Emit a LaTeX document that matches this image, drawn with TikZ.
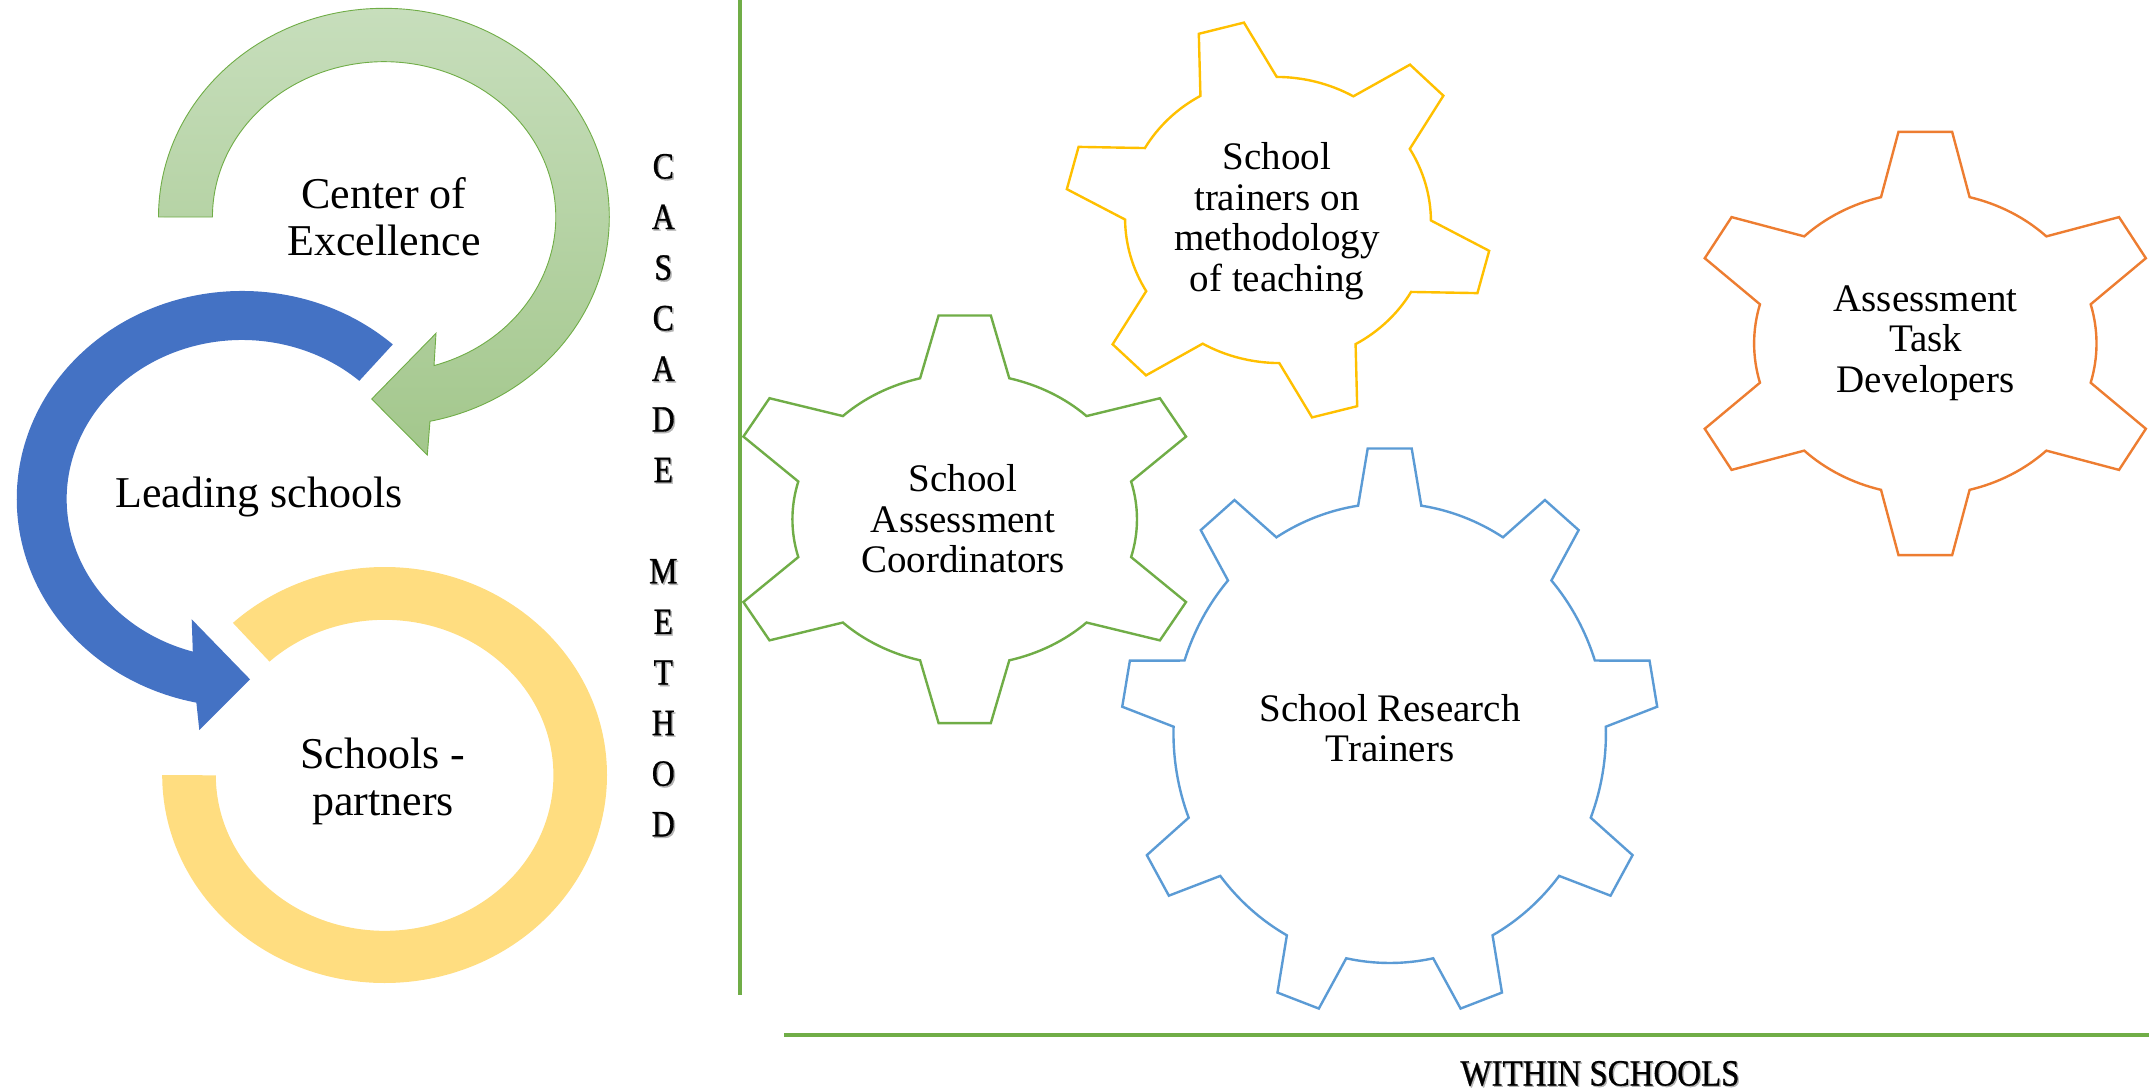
\documentclass[tikz,border=0pt]{standalone}
\usepackage{fontspec}
\setmainfont{Liberation Serif}
\newfontfamily\capfont[FakeBold=0.8]{Liberation Serif}
\usepackage{graphicx}

\definecolor{accgreen}{RGB}{112,173,71}
\definecolor{accblue}{RGB}{68,114,196}
\definecolor{accgold}{RGB}{255,192,0}
\definecolor{accorange}{RGB}{237,125,49}
\definecolor{accsky}{RGB}{91,155,213}
\definecolor{ringyellow}{RGB}{255,221,128}
\definecolor{greentop}{RGB}{199,222,188}
\definecolor{greenbottom}{RGB}{163,199,140}

% gear outline: [style]{teeth}{first tooth angle}{tip radius}{root radius}{tip half-angle}{base half-angle}
\newcommand{\cogwheel}[7][]{%
  \pgfmathsetmacro{\cogstep}{360/#2}%
  \draw[#1] ({#3-#7}:#5)
    \foreach \k in {1,...,#2}{%
      -- ({#3+(\k-1)*\cogstep-#6}:#4)
      -- ({#3+(\k-1)*\cogstep+#6}:#4)
      -- ({#3+(\k-1)*\cogstep+#7}:#5)
      arc[start angle={#3+(\k-1)*\cogstep+#7}, end angle={#3+\k*\cogstep-#7}, radius=#5]
    } -- cycle;}

% narrowed capitals for the captions
\newcommand{\capword}[1]{\scalebox{0.86}[1]{#1}}

\begin{document}
\begin{tikzpicture}[x=1pt,y=1pt,
  bigtext/.style={font=\fontsize{44}{47}\selectfont, align=center, inner sep=0pt},
  geartext/.style={font=\fontsize{39}{40.5}\selectfont, align=center, inner sep=0pt},
  letter/.style={font=\capfont\fontsize{37}{38}\selectfont, anchor=base, inner sep=0pt},
  lettershadow/.style={letter, text=black!30},
  gearline/.style={line width=2.4pt, line join=miter, fill=white},
  divider/.style={draw=accgreen, line width=3.6pt}]
\useasboundingbox (0,0) rectangle (2149,-1091);

% ---- cascade of curved arrows ----
\shade[top color=greentop, bottom color=greenbottom, draw=accgreen, line width=0.9pt]
  (158.5,-217) arc[start angle=180, end angle=-78.2, x radius=225.4, y radius=208.7]
  -- (427.3,-455) -- (371.7,-399) -- (436,-333.3) -- (434,-365.6)
  arc[start angle=-73.1, end angle=180, x radius=171.65, y radius=155.3] -- cycle;

\fill[accblue]
  (392.8,-344.4) arc[start angle=48, end angle=258.3, x radius=225.3, y radius=208]
  -- (199.3,-730) -- (250,-679.3) -- (191.7,-619.3) -- (192.8,-651.6)
  arc[start angle=253.7, end angle=48, x radius=175.3, y radius=159] -- cycle;

\fill[ringyellow]
  (162.2,-775) arc[start angle=180, end angle=493, x radius=222.4, y radius=208]
  -- (269.5,-661.6)
  arc[start angle=493, end angle=180, x radius=168.8, y radius=155.5] -- cycle;

\node[bigtext] (coe) at (384,-217) {Center of\\Excellence};
\node[bigtext] (lead) at (259,-497) {Leading schools};
\node[bigtext] (partners) at (383,-781) {Schools -\\partners};

% ---- vertical caption ----
\foreach \ch [count=\i from 0] in {C,A,S,C,A,D,E,{},M,E,T,H,O,D} {
  \node[lettershadow] (cs\i) at (664.8,{-(178.5+\i*50.6)-1.6}) {\capword{\ch}};
  \node[letter] (c\i) at (663.3,{-(178.5+\i*50.6)}) {\capword{\ch}};
}

% ---- dividing lines ----
\coordinate (vtop) at (740,0);
\coordinate (vbot) at (740,-995);
\coordinate (hleft) at (784,-1035);
\coordinate (hright) at (2149,-1035);
\draw[divider] (vtop) -- (vbot);
\draw[divider] (hleft) -- (hright);

\node[anchor=base, inner sep=0pt, text=black!30, font=\capfont\fontsize{37}{38}\selectfont] (withinshadow) at (1601.4,-1086.8) {\scalebox{0.89}[1]{WITHIN SCHOOLS}};
\node[anchor=base, inner sep=0pt, font=\capfont\fontsize{37}{38}\selectfont] (within) at (1600,-1085.5) {\scalebox{0.89}[1]{WITHIN SCHOOLS}};

% ---- gears ----
\begin{scope}[shift={(1278,-220)}, rotate=-5, xscale=1.07]
  \cogwheel[gearline, draw=accgold]{6}{-9.84}{199.5}{143}{6.3}{15}
\end{scope}
\node[geartext] (trainers) at (1277,-221) {School\\trainers on\\methodology\\of teaching};

\begin{scope}[shift={(964.7,-519.3)}, xscale=1.18]
  \cogwheel[gearline, draw=accgreen]{6}{90}{205}{146}{6.2}{15}
\end{scope}
\node[geartext] (coord) at (963,-519) {School\\Assessment\\Coordinators};

\begin{scope}[shift={(1925.3,-343.5)}, xscale=1.13]
  \cogwheel[gearline, draw=accorange]{6}{90}{213}{151.5}{6.4}{15}
\end{scope}
\node[geartext] (developers) at (1925.6,-343) {Assessment\\Task\\Developers};

\begin{scope}[shift={(1389.7,-733.1)}, xscale=0.9406]
  \cogwheel[gearline, draw=accsky]{9}{90}{285.6}{229.9}{4.7}{8.4}
\end{scope}
\node[geartext] (research) at (1390,-728) {School Research\\Trainers};

\end{tikzpicture}
\end{document}
